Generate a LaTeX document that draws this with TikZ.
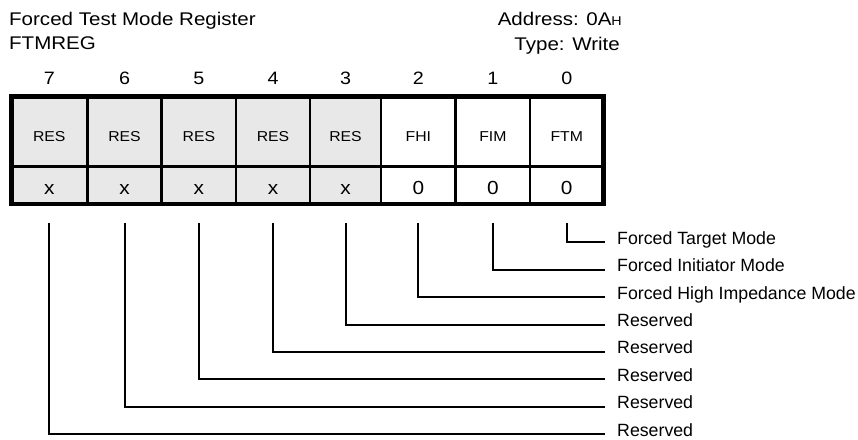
\documentclass[tikz,border=0pt]{standalone}
\usepackage{fontspec}
\setmainfont{Liberation Sans}
\newfontfamily\hdrfont{Liberation Sans}[FakeStretch=1.12]
\newfontfamily\cellfont{Liberation Sans}[FakeStretch=1.1]
\definecolor{resgray}{RGB}{232,232,232}
\begin{document}
\begin{tikzpicture}[x=1bp,y=-1bp,
  hdr/.style={font=\hdrfont\fontsize{18.4}{20}\selectfont, inner sep=0pt},
  bitnum/.style={font=\cellfont\fontsize{18}{20}\selectfont, anchor=base, inner sep=0pt},
  fieldtxt/.style={font=\cellfont\fontsize{14.4}{16}\selectfont, inner sep=0pt},
  valtxt/.style={font=\cellfont\fontsize{19}{21}\selectfont, anchor=base, inner sep=0pt},
  desc/.style={font=\fontsize{17.8}{20}\selectfont, anchor=base west, inner sep=0pt},
  conn/.style={line width=2bp},
  divider/.style={line width=2.5bp},
  outer/.style={line width=4.5bp}]
\useasboundingbox (0,0) rectangle (858,440);

% header
\node[hdr, anchor=base west] (title) at (9,26) {Forced Test Mode Register};
\node[hdr, anchor=base west] (regname) at (9,50) {FTMREG};
\node[hdr, anchor=base east] (addr) at (622,26) {Address: 0A{\fontsize{12.8}{14}\selectfont H}};
\node[hdr, anchor=base east] (type) at (620,51) {Type: Write};

% register body
\fill[resgray] (11.3,96.7) rectangle (381,204);
\foreach \x in {87.3,161.7,236,310,381,455.7,530}
  \draw[divider] (\x,96.7) -- (\x,204);
\draw[divider] (11.3,166.7) -- (603.5,166.7);
\draw[outer] (11.3,96.7) rectangle (603.5,204);

% bit numbers, field names, values
\foreach \b/\cx/\f/\v in {7/49.3/RES/x, 6/124.5/RES/x, 5/198.85/RES/x, 4/273/RES/x,
                         3/345.5/RES/x, 2/418.35/FHI/0, 1/492.85/FIM/0, 0/566.75/FTM/0}{
  \node[bitnum] (n\b) at (\cx,85) {\b};
  \node[fieldtxt] (f\b) at (\cx,137) {\f};
  \node[valtxt] (v\b) at (\cx,194.5) {\v};
  \coordinate (s\b) at (\cx,223.3);
}

% descriptions and connectors
\foreach \b/\t in {0/Forced Target Mode, 1/Forced Initiator Mode,
                   2/Forced High Impedance Mode, 3/Reserved, 4/Reserved,
                   5/Reserved, 6/Reserved, 7/Reserved}{
  \pgfmathsetmacro{\ly}{242.5+27.4*\b}
  \coordinate (e\b) at (605,\ly);
  \node[desc] (d\b) at (617,\ly+1.8) {\t};
  \draw[conn] (s\b) |- (e\b);
}
\end{tikzpicture}
\end{document}
